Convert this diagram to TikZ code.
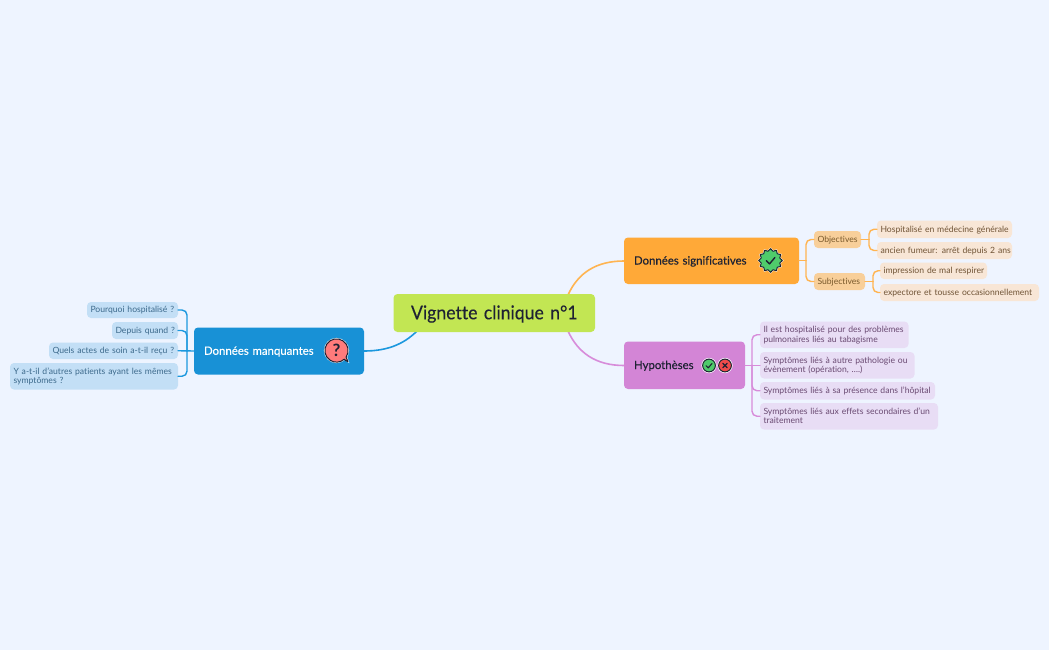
\documentclass[tikz,border=0pt]{standalone}
\usepackage{fontspec}
\setmainfont[Ligatures=NoCommon]{Lato}
\newfontfamily\rootfont[Ligatures=NoCommon,FakeStretch=0.93,FakeBold=0.15]{Lato}
\newfontfamily\mainfontb[Ligatures=NoCommon,FakeBold=0.3]{Lato}
\usetikzlibrary{calc}
\definecolor{bgc}{HTML}{EEF4FF}
\definecolor{centerc}{HTML}{C2E653}
\definecolor{orangec}{HTML}{FFA938}
\definecolor{orangel}{HTML}{FFB451}
\definecolor{purplec}{HTML}{D385D6}
\definecolor{purplel}{HTML}{D78CDA}
\definecolor{bluec}{HTML}{1891D6}
\definecolor{bluel}{HTML}{1C98DE}
\definecolor{bleaf}{HTML}{C3DFF6}
\definecolor{bleaft}{HTML}{3D6A8C}
\definecolor{osub}{HTML}{F8CF9A}
\definecolor{osubt}{HTML}{7A5A2C}
\definecolor{oleaf}{HTML}{F8E6D6}
\definecolor{oleaft}{HTML}{705436}
\definecolor{pleaf}{HTML}{E8DDF5}
\definecolor{pleaft}{HTML}{6A4A72}
\definecolor{inkc}{HTML}{1E2233}
\definecolor{cgreen}{HTML}{4FCB6B}
\definecolor{cred}{HTML}{F04B4B}
\definecolor{cbub}{HTML}{FF7B7B}
\tikzset{
  x=1pt,y=-1pt,
  mapbox/.style={rectangle,rounded corners=4pt,inner sep=0pt,outer sep=0pt},
  rootbox/.style={mapbox,fill=centerc,text=inkc,font=\rootfont\fontsize{19}{23}\selectfont},
  mainbox/.style={mapbox,font=\mainfontb\fontsize{11.4}{13}\selectfont},
  leafbox/.style={mapbox,font=\fontsize{8.6}{9.4}\selectfont},
  bl/.style={leafbox,fill=bleaf,text=bleaft},
  ol/.style={leafbox,fill=oleaf,text=oleaft},
  os/.style={leafbox,fill=osub,text=osubt},
  pl/.style={leafbox,fill=pleaf,text=pleaft},
  conn/.style={line width=1.4pt,line cap=round,rounded corners=5pt},
  icon/.style={draw=inkc,line width=1pt,line join=round},
}
\newcommand{\tl}[1]{\raisebox{-.33em}[0pt][0pt]{#1}}
% name, x1, y1, x2, y2, style, text
\newcommand{\mapnode}[7]{%
  \pgfmathsetmacro{\mycx}{(#2+#4)/2}\pgfmathsetmacro{\mycy}{(#3+#5)/2}%
  \pgfmathsetmacro{\myw}{#4-#2}\pgfmathsetmacro{\myh}{#5-#3}%
  \pgfmathsetmacro{\mytw}{#4-#2-7}%
  \node[#6,minimum width=\myw pt,minimum height=\myh pt,text width=\mytw pt,align=left] (#1) at (\mycx,\mycy) {#7};%
}
\begin{document}
\begin{tikzpicture}
\useasboundingbox (0,0) rectangle (1049,650);
\fill[bgc] (0,0) rectangle (1049,650);
% main branches, under the boxes
\coordinate (rootNE) at (568,295);
\coordinate (rootSE) at (568,331);
\coordinate (rootSW) at (417,331);
\coordinate (sigW) at (624,261);
\coordinate (hypW) at (624,365.5);
\coordinate (manE) at (364,351);
\draw[line width=1.6pt,orangel] (rootNE) .. controls ($(rootNE)+(10,-22)$) and ($(sigW)+(-28,0)$) .. (sigW);
\draw[line width=1.6pt,purplel] (rootSE) .. controls ($(rootSE)+(10,22)$) and ($(hypW)+(-28,0)$) .. (hypW);
\draw[line width=1.6pt,bluel] (rootSW) .. controls ($(rootSW)+(-14,14)$) and ($(manE)+(22,0)$) .. (manE);
% nodes
\mapnode{root}{393.5}{294}{595}{332}{rootbox}{\hspace*{14pt}\tl{Vignette clinique n°1}}
\mapnode{sig}{624}{237.5}{799}{284}{mainbox,fill=orangec,text=inkc}{\hspace*{6.5pt}\tl{Données significatives}}
\mapnode{hyp}{624}{341.5}{745}{389}{mainbox,fill=purplec,text=inkc}{\hspace*{6.5pt}\tl{Hypothèses}}
\mapnode{man}{194}{327.5}{364}{374.5}{mainbox,fill=bluec,text=white}{\hspace*{6.5pt}\tl{Données manquantes}}
\mapnode{b1}{87}{302}{178}{318}{bl}{\tl{Pourquoi hospitalisé ?}}
\mapnode{b2}{112}{322}{178}{339}{bl}{\tl{Depuis quand ?}}
\mapnode{b3}{49}{342.5}{178}{359}{bl}{\tl{Quels actes de soin a-t-il reçu ?}}
\mapnode{b4}{10}{363}{178}{389.5}{bl}{\tl{Y a-t-il d'autres patients ayant les mêmes}\\\tl{symptômes ?}}
\mapnode{obj}{814}{231}{861}{248}{os}{\tl{Objectives}}
\mapnode{sub}{814}{273}{865}{290}{os}{\tl{Subjectives}}
\mapnode{o1}{877}{220.5}{1012}{238}{ol}{\tl{Hospitalisé en médecine générale}}
\mapnode{o2}{877}{242}{1012}{259}{ol}{\tl{ancien fumeur: arrêt depuis 2 ans}}
\mapnode{o3}{880}{262.5}{987}{279}{ol}{\tl{impression de mal respirer}}
\mapnode{o4}{880}{284}{1039}{301}{ol}{\tl{expectore et tousse occasionnellement}}
\mapnode{p1}{760}{321.5}{908.5}{348}{pl}{\tl{Il est hospitalisé pour des problèmes}\\\tl{pulmonaires liés au tabagisme}}
\mapnode{p2}{760}{352}{914.5}{378.5}{pl}{\tl{Symptômes liés à autre pathologie ou}\\\tl{évènement (opération, ….)}}
\mapnode{p3}{760}{382}{935}{399.5}{pl}{\tl{Symptômes liés à sa présence dans l'hôpital}}
\mapnode{p4}{760}{403}{938}{429.5}{pl}{\tl{Symptômes liés aux effets secondaires d'un}\\\tl{traitement}}
% blue subtree
\coordinate (bt) at ($(man.west)+(-7,0)$);
\draw[conn,bluel] (bt) |- (b1.east);
\draw[conn,bluel] (bt) |- (b2.east);
\draw[conn,bluel] (man.west) -- (b3.east);
\draw[conn,bluel] (bt) |- ($(b4.east)+(0,0)$);
% orange subtree
\coordinate (ot) at ($(sig.east)+(7,0)$);
\draw[conn,orangel,rounded corners=0pt] (sig.east) -- (ot);
\draw[conn,orangel] (ot) |- (obj.west);
\draw[conn,orangel] (ot) |- (sub.west);
\coordinate (ot1) at ($(obj.east)+(8,0)$);
\draw[conn,orangel,rounded corners=0pt] (obj.east) -- (ot1);
\draw[conn,orangel] (ot1) |- (o1.west);
\draw[conn,orangel] (ot1) |- (o2.west);
\coordinate (ot2) at ($(sub.east)+(8,0)$);
\draw[conn,orangel,rounded corners=0pt] (sub.east) -- (ot2);
\draw[conn,orangel] (ot2) |- (o3.west);
\draw[conn,orangel] (ot2) |- (o4.west);
% purple subtree
\coordinate (pt) at ($(hyp.east)+(7,0)$);
\draw[conn,purplel] (pt) |- (p1.west);
\draw[conn,purplel] (hyp.east) -- (p2.west);
\draw[conn,purplel] (pt) |- (p3.west);
\draw[conn,purplel] (pt) |- (p4.west);
% star icon
\begin{scope}[shift={(770.5,260.5)}]
  \fill[white] (0:13)
    \foreach \a in {0,15,...,345} { -- (\a:{mod(\a,30)==0 ? 13 : 10.6}) } -- cycle;
  \filldraw[icon,fill=cgreen] (0:11.8)
    \foreach \a in {0,15,...,345} { -- (\a:{mod(\a,30)==0 ? 11.8 : 9.6}) } -- cycle;
  \draw[inkc,line width=1.4pt,line cap=round,line join=round] (-4.2,0.2) -- (-1,3.4) -- (4.4,-3);
\end{scope}
% hypothesis icons
\begin{scope}[shift={(709,365.5)}]
  \fill[white] (0,0) circle (7.6);
  \filldraw[icon,fill=cgreen] (0,0) circle (6.4);
  \draw[inkc,line width=1.1pt,line cap=round,line join=round] (-3,0.2) -- (-0.8,2.4) -- (3,-2);
\end{scope}
\begin{scope}[shift={(725,365.5)}]
  \fill[white] (0,0) circle (7.6);
  \filldraw[icon,fill=cred] (0,0) circle (6.4);
  \draw[inkc,line width=1.1pt,line cap=round] (-2.2,-2.2) -- (2.2,2.2) (-2.2,2.2) -- (2.2,-2.2);
\end{scope}
% question icon
\begin{scope}[shift={(336.5,350.5)}]
  \fill[white] (0,0) circle (12.6);
  \fill[white] (6,8) -- (12.8,12.6) -- (10,4) -- cycle;
  \filldraw[icon,fill=cbub] (9.6,6.6) arc[start angle=34.5,end angle=-312,radius=11.65]
     .. controls (8.6,10) and (9.8,10.8) .. (11.4,11)
     .. controls (10.4,9.4) and (9.9,8.2) .. (9.6,6.6) -- cycle;
  \node[inner sep=0pt,text=inkc,font=\fontsize{17}{17}\bfseries\selectfont] (qmark) at (0,0) {?};
\end{scope}
\end{tikzpicture}
\end{document}
